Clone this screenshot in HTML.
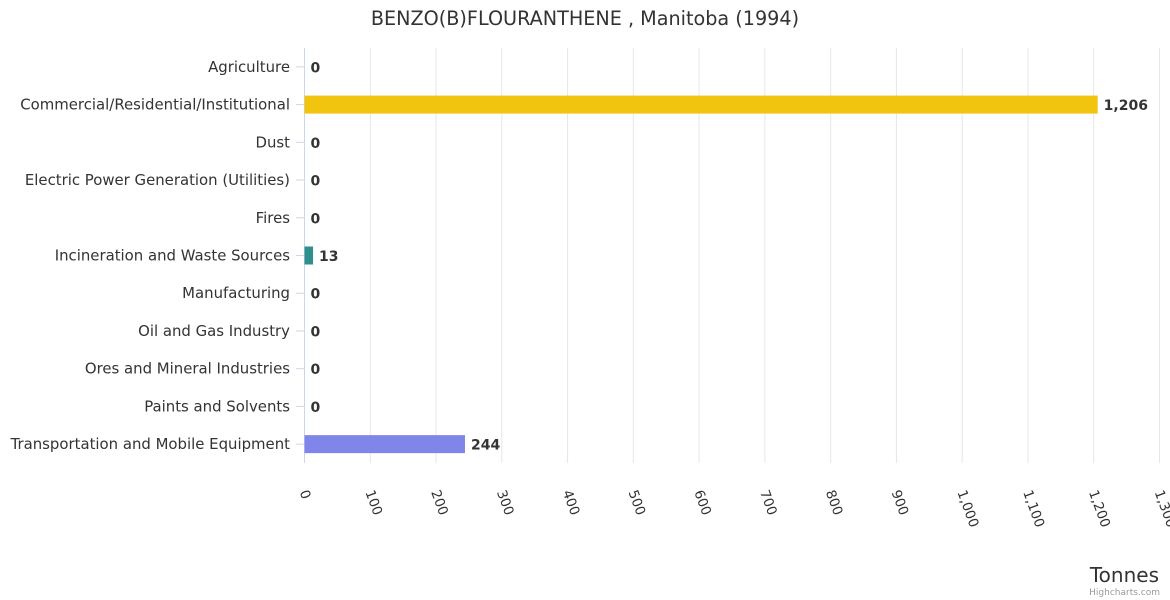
<!DOCTYPE html>
<html><head><meta charset="utf-8"><style>
html,body{margin:0;padding:0;background:#fff;}
svg{display:block;font-family:"DejaVu Sans","Liberation Sans",sans-serif;}
</style></head><body>
<svg id="chart" width="1170" height="600" viewBox="0 0 1170 600">
<text x="585" y="25" text-anchor="middle" font-size="19.2" fill="#333">BENZO(B)FLOURANTHENE , Manitoba (1994)</text>
<g id="grid"></g><g id="bars"></g><g id="ylabels"></g><g id="xlabels"></g>
<text x="1159" y="582" text-anchor="end" font-size="20" fill="#333">Tonnes</text>
<text x="1160" y="595" text-anchor="end" font-size="9" fill="#999">Highcharts.com</text>
</svg>
<script>
const categories=["Agriculture","Commercial/Residential/Institutional","Dust","Electric Power Generation (Utilities)","Fires","Incineration and Waste Sources","Manufacturing","Oil and Gas Industry","Ores and Mineral Industries","Paints and Solvents","Transportation and Mobile Equipment"];
const values=[0,1206,0,0,0,13,0,0,0,0,244];
const colors=["#7cb5ec","#f1c40f","#90ed7d","#f7a35c","#8085e9","#2f8f8f","#e4d354","#2b908f","#f45b5b","#91e8e1","#8085e9"];
const ticks=[0,100,200,300,400,500,600,700,800,900,1000,1100,1200,1300];
const NS="http://www.w3.org/2000/svg";
const L=304.5,R=1159.5,T=48,B=463,xmax=1300;
const x=v=>L+(v/xmax)*(R-L);
const rowH=(B-T)/categories.length;
const y=i=>T+rowH*(i+0.5);
function mk(tag,attrs,parent,txt){const e=document.createElementNS(NS,tag);for(const k in attrs)e.setAttribute(k,attrs[k]);if(txt!==undefined)e.textContent=txt;document.getElementById(parent).appendChild(e);return e;}
ticks.forEach(t=>{
  const g=mk('line',{x1:x(t),x2:x(t),y1:T,y2:B,stroke:t===0?'#ccd6eb':'#e6e6e6','stroke-width':1},'grid');
  
  
  const xl=mk('text',{x:x(t)-5,y:492,'font-size':13.5,fill:'#333',transform:`rotate(70 ${x(t)-5} 492)`},'xlabels',t.toLocaleString('en-US'));
  
  
});
categories.forEach((c,i)=>{
  const tk=mk('line',{x1:296,x2:304,y1:y(i),y2:y(i),stroke:'#ccd6eb'},'grid');
  
  
  const yl=mk('text',{x:290,y:y(i)+5,'text-anchor':'end','font-size':14.9,fill:'#333'},'ylabels',c);
  
  
  const w=x(values[i])-x(0);
  if(w>0){
    const b=mk('rect',{x:x(0),y:y(i)-9,width:w,height:18,fill:colors[i]},'bars');
    
    
  }
  const lb=mk('text',{x:x(values[i])+6,y:y(i)+5.5,'font-size':14,'font-weight':'bold',fill:'#333'},'bars',values[i].toLocaleString('en-US'));
  
  
});
</script>
</body></html>
